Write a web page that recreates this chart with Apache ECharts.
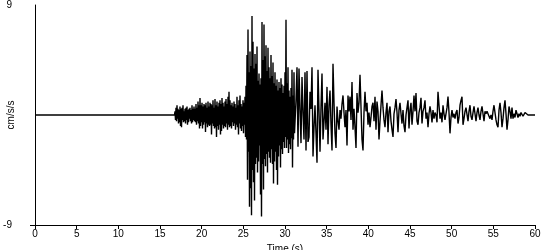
<!DOCTYPE html>
<html>
<head>
<meta charset="utf-8">
<script src="https://cdn.jsdelivr.net/npm/echarts@6/dist/echarts.min.js"></script>
<style>
html,body{margin:0;padding:0;background:#fff;}
#chart{width:550px;height:250px;}
</style>
</head>
<body>
<div id="chart"></div>
<script>
// ---- data (acceleration, cm/s/s) ----
const xTicks = [0, 5, 10, 15, 20, 25, 30, 35, 40, 45, 50, 55, 60];
const yRange = [-9, 9];
// pre-event: flat record
const preEventTimes = [0, 16.74];
const preEventValues = [0, 0];
// P-wave noise, starts 16.8 s, step 0.06 s
const quietStart = 16.8, quietStep = 0.06;
const quietNoise = [
 0.3,-0.4,0.6,-0.5,0.8,-0.3,0.5,-0.7,0.4,-0.6,
 0.7,-0.9,0.5,-1.0,0.6,-0.4,0.8,-0.6,0.3,-0.5,
 0.5,-0.7,0.6,-0.4,0.7,-0.8,0.4,-0.6,0.5,-0.3,
 0.6,-0.5,0.4,-0.7,0.8,-0.6,0.5,-0.4,0.7,-0.5,
 0.5,-0.6,0.9,-0.8,0.6,-0.5,1.1,-0.7,0.8,-1.1,
 1.4,-0.9,0.8,-0.6,1.0,-1.1,0.7,-0.8,0.9,-0.6,
 0.8,-1.4,1.0,-0.7,0.6,-1.0,1.1,-0.8,0.7,-0.9,
 1.0,-0.8,0.9,-1.6,0.8,-0.7,1.2,-0.9,0.6,-1.1,
 1.3,-1.0,0.8,-1.8,1.1,-0.9,0.7,-1.2,1.0,-0.8,
 1.2,-1.6,0.9,-1.3,1.4,-0.8,1.0,-1.1,0.7,-0.9,
 1.1,-1.0,1.3,-0.7,0.9,-1.2,1.5,-0.8,1.9,-1.0,
 1.2,-0.9,0.8,-1.1,1.0,-0.6,0.7,-0.9,1.1,-0.7,
 0.9,-1.2,0.6,-0.8,1.5,-1.0,0.8,-1.6,1.2,-0.7,
 1.6,-1.1,0.9,-1.3,0.7,-0.9,1.2,-1.5,1.0,-0.8
];
// strong motion, continues at the same step after quietNoise
const strongMotion = [
 1.5,-1.8, 2.4,-2.0, 4.9,-5.3, 7.0,-3.0, 3.5,-7.5,
 5.2,-6.0, 4.0,-8.2, 8.1,-4.5, 6.0,-5.5, 3.8,-7.0,
 5.0,-4.0, 4.2,-3.5, 5.6,-4.7, 2.8,-3.8, 3.4,-2.5,
 2.5,-6.5, 3.0,-8.3, 7.6,-4.0, 4.5,-6.1, 7.4,-3.6,
 4.8,-4.2, 5.7,-3.2, 3.6,-4.7, 5.5,-3.0, 3.9,-3.5,
 3.0,-3.9, 4.9,-2.8, 3.2,-4.0, 4.3,-5.6, 2.6,-3.8,
 3.5,-3.0, 2.4,-4.5, 2.9,-5.7, 2.0,-3.4, 2.7,-2.5,
 2.2,-4.3, 3.0,-2.8, 2.5,-3.2, 1.8,-2.2, 2.4,-2.7,
 3.5,-1.8, 7.8,-2.7, 2.6,-2.0, 3.9,-3.1, 2.0,-2.4,
 1.5,-2.8, 2.2,-1.9, 3.7,-4.3, 1.6,-2.0, 3.5,-1.5
];
// coda, starts 31.2 s, step 0.12 s
const codaStart = 31.2, codaStep = 0.12;
const coda = [
 -1.5,1.2,3.9,-2.6,3.8,0.5,-2.3,3.1,0.2,-2.0,
 3.5,-2.9,3.6,-2.2,-1.8,1.9,0.5,3.9,-3.4,-1.0,
 0.8,-1.5,-3.9,3.7,3.8,-3.0,0.6,3.4,-2.0,-0.5,
 1.0,-1.2,2.3,-2.4,0.8,2.0,-0.8,-2.9,4.2,1.0,
 -1.5,-2.7,0.7,-0.5,-1.2,0.4,-0.3,0.9,1.6,0.2,
 -1.0,0.4,-2.5,1.6,0.3,1.5,-0.4,2.7,-1.2,0.5,
 -1.0,-2.7,1.8,0.2,1.0,3.3,3.4,-2.0,-2.9,0.2,
 1.9,0.3,1.0,-0.8,0.2,-1.0,-0.2,0.7,1.0,-0.5,
 1.5,-1.2,1.1,0.3,-2.0,-0.5,0.8,2.0,0.6,-0.4,
 -1.0,0.2,1.0,-1.4,0.3,0.7,-0.5,-1.2,-1.8,0.1,
 0.6,1.3,0.2,-1.4,0.4,1.0,0.1,-0.7,0.4,-0.9,
 -1.4,0.0,0.6,1.2,-1.1,0.4,1.0,-0.8,0.3,1.6,
 0.3,1.8,-0.5,-0.8,0.2,0.6,1.4,-0.7,0.3,0.6,
 1.2,-0.3,0.2,-1.0,0.1,0.7,0.2,-0.6,0.4,-0.3,
 0.2,0.0,-0.6,1.9,0.8,-0.3,0.2,-0.6,0.8,0.1,
 -0.4,-0.4,0.6,1.5,0.2,-1.5,-0.2,0.4,-0.2,0.1,
 -0.3,0.2,0.4,-0.7,-0.2,0.8,1.2,1.5,-0.8,-0.3,
 0.3,0.6,0.7,-0.5,0.3,0.8,-0.1,-0.4,0.2,0.7,
 0.1,-0.5,0.2,0.6,0.0,-0.4,0.3,0.7,0.1,-0.5,
 0.3,0.1,0.3,0.4,-0.1,-0.3,0.0,-0.4,0.3,0.8,
 0.2,-0.4,-0.8,-1.0,0.4,1.0,0.2,-1.0,-0.3,0.6,
 1.2,0.1,-1.2,-0.4,0.7,0.3,-0.3,0.6,-0.3,0.1,
 -0.2,0.4,0.1,-0.2,0.1,-0.1,0.2,0.3,-0.1,0.0,
 0.2,0.1,0.2,0.0,0.1,0.0,0.0,0.0,0.0,0.0,
 0.0
];

// ---- build [time, value] pairs ----
const series = [];
preEventTimes.forEach((t, i) => series.push([t, preEventValues[i]]));
quietNoise.concat(strongMotion).forEach((v, i) => series.push([+(quietStart + i * quietStep).toFixed(3), v]));
coda.forEach((v, i) => series.push([+(codaStart + i * codaStep).toFixed(3), v]));

const chart = echarts.init(document.getElementById('chart'), null, {renderer: 'canvas'});
const font = 'Liberation Sans, Arial, sans-serif';
chart.setOption({
  animation: false,
  backgroundColor: '#fff',
  grid: {left: 35, right: 15, top: 5, bottom: 25, containLabel: false, outerBoundsMode: 'none'},
  xAxis: {
    type: 'value', min: xTicks[0], max: xTicks[xTicks.length - 1], interval: 5,
    name: 'Time (s)', nameLocation: 'middle', nameGap: 15,
    nameTextStyle: {color: '#000', fontFamily: font, fontSize: 10},
    axisLine: {show: true, onZero: false, lineStyle: {color: '#000', width: 1}},
    axisTick: {show: true, inside: false, length: 4, lineStyle: {color: '#000'}},
    axisLabel: {color: '#000', fontFamily: font, fontSize: 10, margin: 4},
    splitLine: {show: false}
  },
  yAxis: {
    type: 'value', min: yRange[0], max: yRange[1], interval: 18,
    name: 'cm/s/s', nameLocation: 'middle', nameGap: 19, nameRotate: 90,
    nameMoveOverlap: false,
    nameTextStyle: {color: '#000', fontFamily: font, fontSize: 10},
    axisLine: {show: true, onZero: false, lineStyle: {color: '#000', width: 1}},
    axisTick: {show: true, length: 5, customValues: [yRange[0]], lineStyle: {color: '#000'}},
    axisLabel: {color: '#000', fontFamily: font, fontSize: 10, margin: 23, align: 'right'},
    splitLine: {show: false}
  },
  series: [{
    type: 'line', data: series, showSymbol: false, sampling: 'none',
    lineStyle: {color: '#000', width: 1.4}, silent: true
  }]
});
</script>
</body>
</html>
